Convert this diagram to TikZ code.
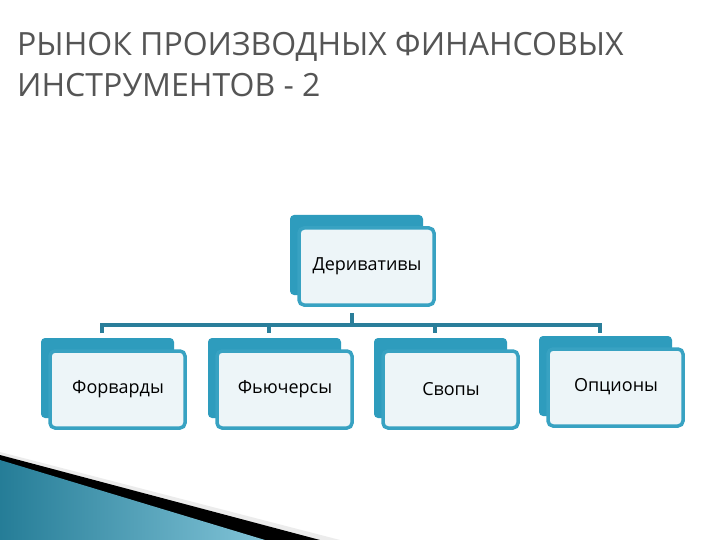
\documentclass[tikz,border=0pt]{standalone}
\usepackage{fontspec}
\setmainfont{Open Sans}
\definecolor{tback}{HTML}{2E9CBD}
\definecolor{tedge}{HTML}{38A2C2}
\definecolor{tfill}{HTML}{EDF5F8}
\definecolor{tline}{HTML}{2A7E9A}
\definecolor{ttl}{HTML}{555555}
\begin{document}
\begin{tikzpicture}[x=1pt,y=-1pt,
 backbox/.style={fill=tback,rounded corners=4pt},
 frontbox/.style={draw=tedge,line width=3.5pt,fill=tfill,rounded corners=5pt},
 lbl/.style={font=\fontsize{18}{21}\selectfont,text=black},
 conn/.style={draw=tline,line width=3.5pt}]
\useasboundingbox (0,0) rectangle (720,540);
\fill[white] (0,0) rectangle (720,540);
% decoration
\fill[gray!15] (0,452) -- (340,540) -- (0,540) -- cycle;
\fill[black] (0,455) -- (320,540) -- (0,540) -- cycle;
\shade[left color=tback!80!black,right color=tback!60!white] (0,460) -- (265,540) -- (0,540) -- cycle;
% title
\node[anchor=west,inner sep=0pt,text=ttl,font=\fontsize{32}{36}\selectfont] (t1) at (17,47) {РЫНОК ПРОИЗВОДНЫХ ФИНАНСОВЫХ};
\node[anchor=west,inner sep=0pt,text=ttl,font=\fontsize{32}{36}\selectfont] (t2) at (17,85) {ИНСТРУМЕНТОВ - 2};
% boxes
\def\mkbox#1#2#3#4{%
 \fill[backbox] (#2-9,#3-5) rectangle (#2+124,#3+75);
 \draw[frontbox] (#2,#3+8) rectangle (#2+135,#3+85);
 \node[lbl] (#1) at (#2+68,#3+46) {#4};}
\mkbox{der}{299}{220}{Деривативы}
\mkbox{fw}{50}{343}{Форварды}
\mkbox{fu}{217}{343}{Фьючерсы}
\mkbox{sw}{383}{343}{Свопы}
\mkbox{op}{548}{341}{Опционы}
\coordinate (dbot) at (352,313);
\coordinate (bar) at (352,325);
\draw[conn] (dbot) -- (bar);
\draw[conn] (102,333) -- (102,325) -- (600,325) -- (600,333);
\draw[conn] (269,325) -- (269,333);
\draw[conn] (435,325) -- (435,333);
\end{tikzpicture}
\end{document}
